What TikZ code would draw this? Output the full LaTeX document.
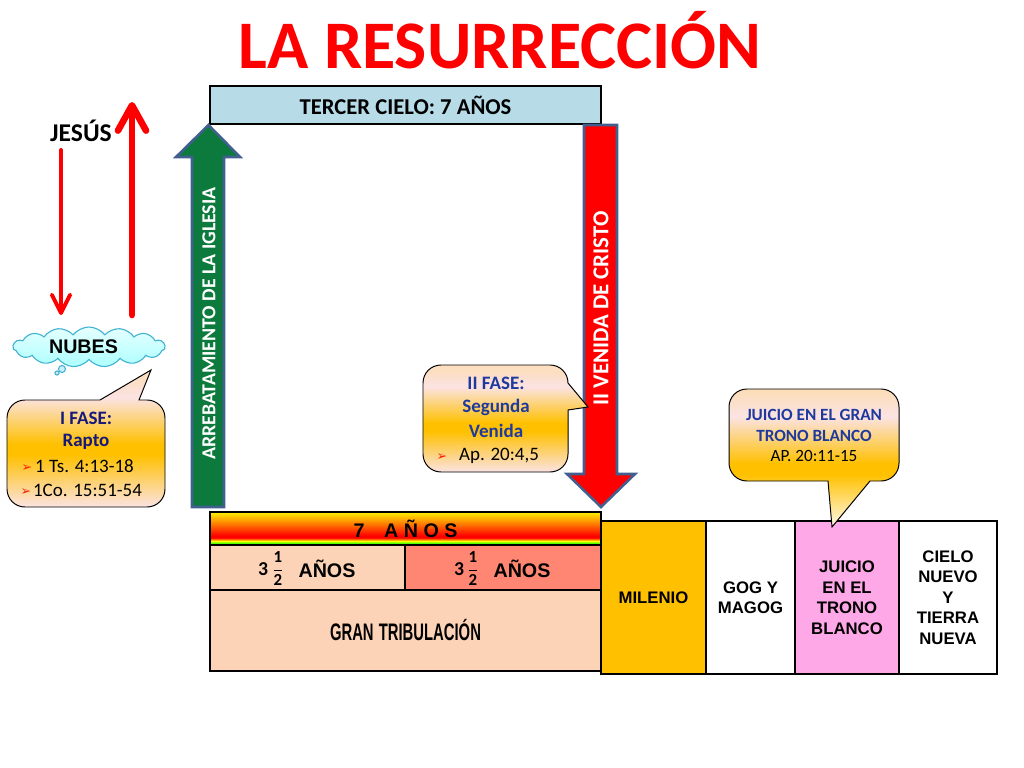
\documentclass[tikz,border=0pt]{standalone}
\usepackage{fontspec}
\setmainfont{Carlito}
\newfontfamily\arial{Liberation Sans}
\newfontfamily\dejavu{DejaVu Sans}
\usetikzlibrary{arrows.meta,shapes.symbols}
\definecolor{cielo}{HTML}{B7DCE8}
\definecolor{verde}{HTML}{0B7A3C}
\definecolor{borde}{HTML}{41608F}
\definecolor{naranja}{HTML}{FFC000}
\definecolor{rosa}{HTML}{FBE3E3}
\definecolor{marino}{HTML}{1F3A9E}
\definecolor{oscuro}{HTML}{16187C}
\definecolor{durazno}{HTML}{FDD3B8}
\definecolor{salmon}{HTML}{FF8672}
\definecolor{lila}{HTML}{FFA8E8}
\definecolor{nube}{HTML}{42B4D2}
\pgfdeclareverticalshading{globo}{100bp}{color(0bp)=(rosa); color(25bp)=(rosa); color(44bp)=(naranja); color(48bp)=(naranja); color(65bp)=(rosa); color(72bp)=(rosa!85!naranja); color(100bp)=(rosa!85!naranja)}
\pgfdeclareverticalshading{globoalto}{100bp}{color(0bp)=(white); color(25bp)=(white!92!naranja); color(44bp)=(naranja); color(48bp)=(naranja); color(65bp)=(rosa); color(75bp)=(rosa!80!naranja); color(100bp)=(rosa!80!naranja)}
\pgfdeclareverticalshading{franja}{100bp}{color(0bp)=(green!60!black); color(25bp)=(green!60!black); color(28bp)=(green!70!yellow); color(31bp)=(yellow); color(36bp)=(red); color(39bp)=(red); color(75bp)=(yellow!90!orange); color(100bp)=(yellow)}
\tikzset{
  tabla/.style={draw=black,line width=1pt,inner sep=0pt,align=center,font=\arial\bfseries},
  columna/.style={tabla,minimum height=3.825cm,font=\arial\bfseries\fontsize{11.9}{14.6}\selectfont},
  globotxt/.style={inner sep=0pt,text=marino,font=\fontsize{13.5}{15}\selectfont\bfseries},
  citatxt/.style={inner sep=0pt,font=\fontsize{13.5}{15}\selectfont},
  vineta/.style={inner sep=0pt,text=red!75!orange,font=\dejavu\fontsize{9}{10}\selectfont},
  mediotxt/.style={inner sep=0pt,font=\arial\bfseries\fontsize{14}{16}\selectfont},
  trestxt/.style={inner sep=0pt,font=\bfseries\fontsize{14}{16}\selectfont},
  fracciontxt/.style={inner sep=0pt,font=\fontsize{12}{14}\selectfont},
  globoform/.style={draw=black,line width=0.7pt,shade,shading=globo},
  flecha/.style={draw=borde,line width=1.8pt,miter limit=10},
  rojo/.style={red,line cap=round},
}
\begin{document}
\begin{tikzpicture}[x=0.025cm,y=-0.025cm]
\useasboundingbox (0,0) rectangle (1024,768);
% titulo
\node[inner sep=0pt,text=red,font=\fontsize{48.4}{52}\selectfont\bfseries] (titulo) at (500,40) {LA RESURRECCIÓN};

% jesus y flechas
\node[inner sep=0pt,font=\fontsize{18.2}{20}\selectfont\bfseries] (jesus) at (81,131) {JESÚS};
\coordinate (bajaA) at (61,150);
\coordinate (bajaB) at (61,315);
\coordinate (subeA) at (132,315);
\coordinate (subeB) at (132,102);
\draw[rojo,line width=2.8pt,-{Straight Barb[length=13pt,width=13pt,round]}] (bajaA) -- (bajaB);
\draw[rojo,line width=4.7pt,-{Straight Barb[length=18pt,width=20pt,round]}] (subeA) -- (subeB);

% nubes
\node[cloud,cloud puffs=15,cloud puff arc=105,aspect=3.7,draw=nube,thick,top color=cyan!10,bottom color=cyan!32,minimum width=3.8cm,minimum height=1cm,inner sep=0pt] (nubes) at (89,347) {};
\node[inner sep=0pt,font=\arial\bfseries\fontsize{14}{16}\selectfont] (nubestxt) at (83.5,347) {NUBES};
\draw[nube,thick,fill=cyan!20] (62,369) circle (3.5);
\draw[nube,thick,fill=cyan!20] (57,373) circle (2);

% tercer cielo
\node[tabla,fill=cielo,minimum width=9.775cm,minimum height=0.95cm,font=\fontsize{16.1}{18}\selectfont\bfseries] (cielo) at (405.5,105) {TERCER CIELO: 7 AÑOS};

% flecha verde
\path[flecha,fill=verde] (192,507) -- (192,157) -- (176,157) -- (208.5,125) -- (240,157) -- (224,157) -- (224,507) -- cycle;
\node[rotate=90,inner sep=0pt,text=white,font=\fontsize{14.1}{16}\selectfont\bfseries] (arrebata) at (209,323.5) {ARREBATAMIENTO DE LA IGLESIA};

% flecha roja
\path[flecha,fill=red] (584,125) -- (617,125) -- (617,474) -- (635,474) -- (601,507) -- (567,474) -- (584,474) -- cycle;
\node[rotate=90,inner sep=0pt,text=white,font=\fontsize{16.2}{18}\selectfont\bfseries] (venida) at (601,308.5) {II VENIDA DE CRISTO};

% siete anos
\node[tabla,shade,shading=franja,minimum width=9.775cm,minimum height=0.825cm,text depth=0pt,font=\arial\bfseries\fontsize{14}{16}\selectfont] (siete) at (405.5,528.5) {7\hspace{1em}A Ñ O S};
\node[tabla,fill=durazno,minimum width=4.875cm,minimum height=1.125cm] (mitadA) at (307.5,567.5) {};
\node[tabla,fill=salmon,minimum width=4.9cm,minimum height=1.125cm] (mitadB) at (503,567.5) {};
\node[trestxt] (tresA) at (263,569) {3};
\node[fracciontxt] (fracA) at (278,569) {$\displaystyle\frac{\mathbf{1}}{\mathbf{2}}$};
\node[mediotxt] (anosA) at (327,568.5) {AÑOS};
\node[trestxt] (tresB) at (459,569) {3};
\node[fracciontxt] (fracB) at (473,569) {$\displaystyle\frac{\mathbf{1}}{\mathbf{2}}$};
\node[mediotxt] (anosB) at (522,568.5) {AÑOS};
\node[tabla,fill=durazno,minimum width=9.775cm,minimum height=2.025cm,font=\arial\bfseries\fontsize{17}{19}\selectfont] (gran) at (405.5,630.5) {\scalebox{0.62}[1]{GRAN\hspace{0.35em}TRIBULACIÓN}};

% tabla derecha
\node[columna,fill=naranja,minimum width=2.625cm] (milenio) at (653.5,597.5) {MILENIO};
\node[columna,fill=white,minimum width=2.225cm] (gog) at (750.5,597.5) {GOG Y\\MAGOG};
\node[columna,fill=lila,minimum width=2.6cm] (juicio) at (847,597.5) {JUICIO\\EN EL\\TRONO\\BLANCO};
\node[columna,fill=white,minimum width=2.45cm] (nueva) at (948,597.5) {CIELO\\NUEVO\\Y\\TIERRA\\NUEVA};

% globo I fase
\path[globoform] (100,400) -- (151,370) -- (139,400) -- (147,400) .. controls (157,400) and (165,408) .. (165,418) -- (165,489) .. controls (165,499) and (157,507) .. (147,507) -- (25,507) .. controls (15,507) and (7,499) .. (7,489) -- (7,418) .. controls (7,408) and (15,400) .. (25,400) -- cycle;
\node[globotxt,text=oscuro] (faseA) at (86,418) {I FASE:};
\node[globotxt,text=oscuro] (rapto) at (86,442) {Rapto};
\node[citatxt] (citaA) at (84.5,466) {1 Ts. 4:13-18};
\node[citatxt] (citaB) at (87.5,490) {1Co. 15:51-54};
\node[vineta] (vinA) at (27,468) {➢};
\node[vineta] (vinB) at (26,492) {➢};

% globo II fase
\path[globoform] (568,383) -- (588,407) -- (568,410) -- (568,454) .. controls (568,464) and (560,472) .. (550,472) -- (441,472) .. controls (431,472) and (423,464) .. (423,454) -- (423,383) .. controls (423,373) and (431,365) .. (441,365) -- (550,365) .. controls (560,365) and (568,373) .. (568,383) -- cycle;
\node[globotxt] (faseB) at (496,383) {II FASE:};
\node[globotxt] (segunda) at (496,407) {Segunda};
\node[globotxt] (venidatxt) at (496,431) {Venida};
\node[citatxt] (citaC) at (499,456) {Ap. 20:4,5};
\node[vineta] (vinC) at (442,457) {➢};

% globo juicio
\path[globoform,shading=globoalto] (870,481) -- (832,527) -- (828,481) -- (747,481) .. controls (737,481) and (729,473) .. (729,463) -- (729,407) .. controls (729,397) and (737,389) .. (747,389) -- (881,389) .. controls (891,389) and (899,397) .. (899,407) -- (899,463) .. controls (899,473) and (891,481) .. (881,481) -- cycle;
\node[globotxt,font=\fontsize{12.2}{14}\selectfont\bfseries] (juiciog) at (814,415) {JUICIO EN EL GRAN};
\node[globotxt,font=\fontsize{12.2}{14}\selectfont\bfseries] (trono) at (814,436) {TRONO BLANCO};
\node[citatxt,font=\fontsize{12.2}{14}\selectfont] (citaD) at (814,456) {AP. 20:11-15};
\end{tikzpicture}
\end{document}
